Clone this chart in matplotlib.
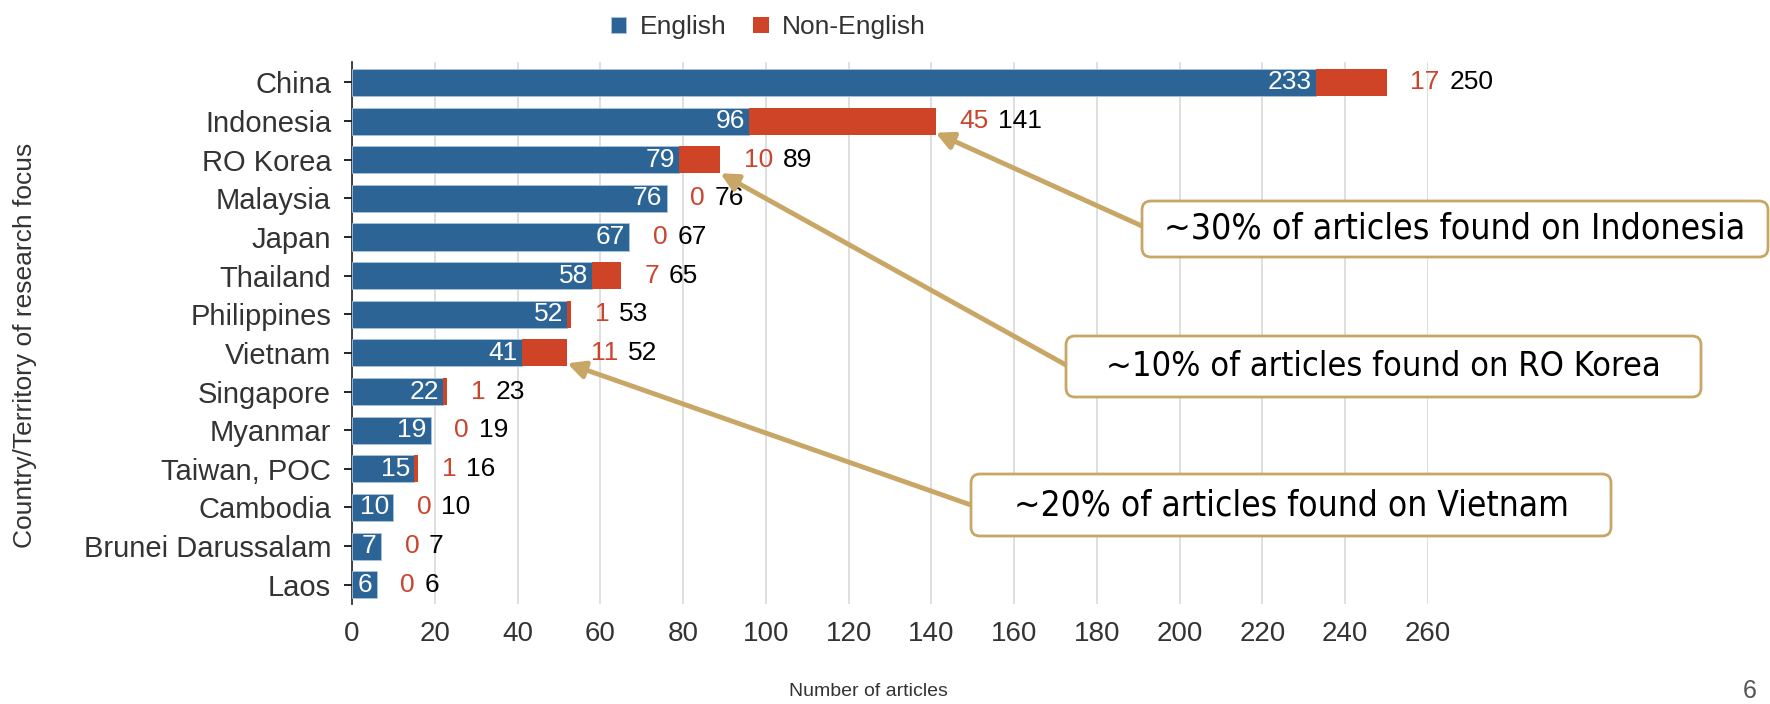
import matplotlib
matplotlib.use("Agg")
from matplotlib import pyplot as plt
from matplotlib.patches import FancyBboxPatch

countries = ["China", "Indonesia", "RO Korea", "Malaysia", "Japan", "Thailand",
             "Philippines", "Vietnam", "Singapore", "Myanmar", "Taiwan, POC",
             "Cambodia", "Brunei Darussalam", "Laos"]
english = [233, 96, 79, 76, 67, 58, 52, 41, 22, 19, 15, 10, 7, 6]
non_english = [17, 45, 10, 0, 0, 7, 1, 11, 1, 0, 1, 0, 0, 0]
totals = [e + n for e, n in zip(english, non_english)]
xticks = list(range(0, 261, 20))

notes = ["~30% of articles found on Indonesia",
         "~10% of articles found on RO Korea",
         "~20% of articles found on Vietnam"]
note_targets = ["Indonesia", "RO Korea", "Vietnam"]

BLUE = "#2c6496"
RED = "#cf4326"
RED_TXT = "#c9452e"
TAN = "#c8a665"

plt.rcParams['font.family'] = ['Liberation Sans', 'DejaVu Sans']

W, H = 1770, 704
fig = plt.figure(figsize=(W / 100, H / 100), dpi=100)
ax = fig.add_axes([352 / W, 1 - 604 / H, (1428 - 352) / W, (604 - 62) / H])

y = list(range(len(countries)))
b1 = ax.barh(y, english, height=0.7, color=BLUE, edgecolor="#a9c4de",
             linewidth=0.6, label="English", zorder=3)
b2 = ax.barh(y, non_english, left=english, height=0.7, color=RED,
             label="Non-English", zorder=3)

for i in y:
    ax.annotate(str(english[i]), xy=(english[i], i), xytext=(-3, 0),
                textcoords="offset points", ha="right", va="center",
                color="white", fontsize=19, zorder=4)
    red = ax.annotate(str(non_english[i]), xy=(totals[i], i), xytext=(17, 0),
                      textcoords="offset points", ha="left", va="center",
                      color=RED_TXT, fontsize=19)
    ax.annotate(str(totals[i]), xy=(1, 0.5), xycoords=red, xytext=(7, 0),
                textcoords="offset points", ha="left", va="center",
                color="black", fontsize=19)

ax.set_xlim(0, 260)
ax.set_ylim(len(countries) - 0.5, -0.53)
ax.set_xticks(xticks)
ax.set_yticks(y)
ax.set_yticklabels(countries)
ax.tick_params(axis="x", length=0, pad=12, labelsize=20, labelcolor="#333333")
ax.tick_params(axis="y", length=12, direction="inout", width=1.2, pad=9,
               labelsize=21, labelcolor="#333333")
for s in ["top", "right", "bottom"]:
    ax.spines[s].set_visible(False)
ax.spines["left"].set_linewidth(1.2)
ax.spines["left"].set_color("#222222")
ax.grid(axis="x", color="#d9d9d9", linewidth=1.2, zorder=0)
ax.set_axisbelow(True)

fig.text(25 / W, 1 - 345 / H, "Country/Territory of research focus",
         rotation=90, ha="center", va="center", fontsize=19, color="#333333")
fig.text(868 / W, 1 - 691 / H, "Number of articles", ha="center",
         va="center", fontsize=14, color="#333333")
fig.text(1750 / W, 1 - 691 / H, "6", ha="center", va="center",
         fontsize=18, color="#555555")

fig.legend(handles=[b1, b2], loc="upper center", bbox_to_anchor=(0.434, 1.012),
           ncol=2, frameon=False, fontsize=19, handlelength=0.6,
           handleheight=0.6, handletextpad=0.5, columnspacing=1.0,
           labelcolor="#333333")

# annotation boxes (pixel positions: left, top, right, bottom), arrow tails
boxes = [(1142, 201, 1768, 257), (1066, 336, 1701, 397), (971, 474, 1611, 536)]
text_widths = [581, 555, 555]
tails = [(1142, 226), (1066, 365), (971, 505)]
tip_offset = [0.3, 0.35, 0.27]

renderer = fig.canvas.get_renderer()
for note, target, (l, t, r, b), tw, (tx, ty), dy in zip(
        notes, note_targets, boxes, text_widths, tails, tip_offset):
    i = countries.index(target)
    ax.annotate("", xy=(totals[i], i + dy), xycoords="data",
                xytext=(tx, H - ty), textcoords="figure pixels",
                arrowprops=dict(arrowstyle="-|>", color=TAN, lw=3.5,
                                mutation_scale=26, shrinkA=0, shrinkB=0),
                annotation_clip=False, zorder=5)
    box = FancyBboxPatch((l, H - b), r - l, b - t,
                         boxstyle="round,pad=0,rounding_size=9",
                         transform=None, facecolor="white", edgecolor=TAN,
                         linewidth=2, zorder=6)
    fig.patches.append(box)
    txt = fig.text((l + r) / 2 / W, 1 - (t + b) / 2 / H, note, ha="center",
                   va="center", fontsize=27, color="black",
                   family=['DejaVu Sans'], fontstretch="condensed", zorder=7)
    # fit text width to the box like the original
    w = txt.get_window_extent(renderer).width
    txt.set_fontsize(min(27, 27 * tw / w))

fig.savefig("out.png", dpi=100)
